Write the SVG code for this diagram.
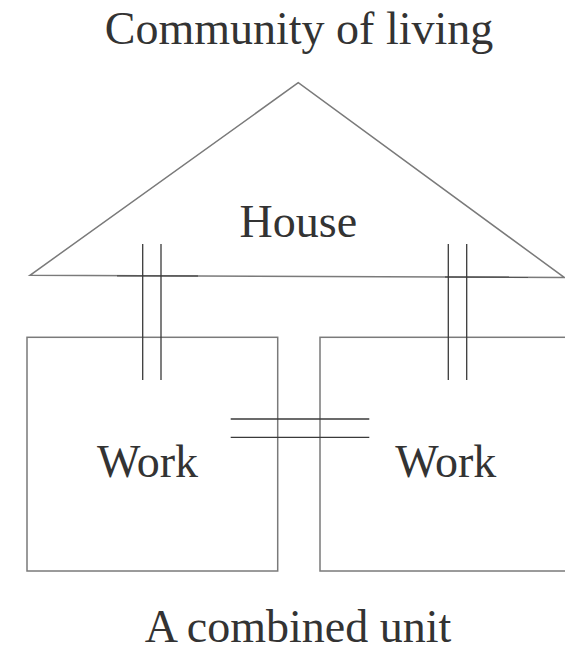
<svg xmlns="http://www.w3.org/2000/svg" width="565" height="654" viewBox="0 0 565 654">
<style>
.shape{fill:none;stroke:#7a7a7a;stroke-width:1.5}
.conn{fill:none;stroke:#3a3a3a;stroke-width:1.3}
.over{fill:none;stroke:#555;stroke-width:1.5}
.lbl{font-family:"Liberation Serif","Times New Roman",serif;font-size:46px;fill:#333;text-anchor:middle}
</style>
<rect width="565" height="654" fill="#fff"/>
<text class="lbl" x="299" y="44" font-size="48.5">Community of living</text>
<g id="house">
<polygon class="shape" points="298.3,82.7 30,275.3 564.5,277.6"/>
<text class="lbl" x="298.3" y="236.7">House</text>
</g>
<g id="work-left">
<rect class="shape" x="27" y="337.3" width="250.7" height="233.7"/>
<text class="lbl" x="147.5" y="476.7">Work</text>
</g>
<g id="work-right">
<rect class="shape" x="320" y="337.3" width="260" height="233.7"/>
<text class="lbl" x="445.8" y="476.7">Work</text>
</g>
<g id="connectors">
<line class="over" x1="117" y1="275.7" x2="198" y2="276"/>
<line class="over" x1="445" y1="277" x2="528" y2="277.2"/>
<line class="conn" x1="142.7" y1="244" x2="142.7" y2="380"/>
<line class="conn" x1="161" y1="244" x2="161" y2="380"/>
<line class="conn" x1="448.3" y1="244" x2="448.3" y2="380"/>
<line class="conn" x1="466.7" y1="244" x2="466.7" y2="380"/>
<line class="conn" x1="230.7" y1="419" x2="369.3" y2="419"/>
<line class="conn" x1="230.7" y1="437.3" x2="369.3" y2="437.3"/>
</g>
<text class="lbl" x="298" y="642" font-size="47">A combined unit</text>
</svg>
